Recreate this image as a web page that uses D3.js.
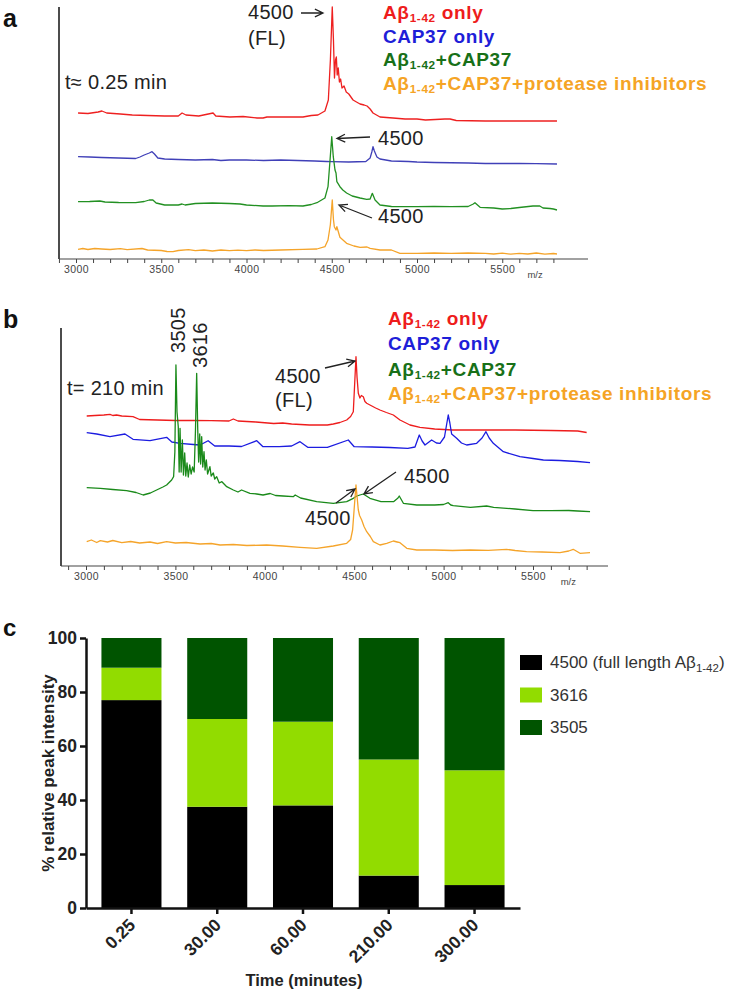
<!DOCTYPE html>
<html><head><meta charset="utf-8">
<script src="https://cdn.jsdelivr.net/npm/d3@7"></script>
<style>
body{margin:0;background:#fff;}
text{font-family:"Liberation Sans",Arial,sans-serif;}
</style></head><body>
<svg id="fig" width="733" height="995"></svg>
<script>
// ---------- shared ----------
const tickLabelsMZ = [3000, 3500, 4000, 4500, 5000, 5500];
const mzTicks = d3.range(2900, 5801, 100);
const legendMain = ["Aβ", "CAP37 only", "Aβ", "Aβ"];
const legendSub = ["1-42", "", "1-42", "1-42"];
const legendRest = [" only", "", "+CAP37", "+CAP37+protease inhibitors"];
const legendColors = ["#ee1c1c", "#1e1ed8", "#187018", "#f5a425"];

// ---------- panel a: t ≈ 0.25 min  ([m/z, relative intensity]) ----------
const aRed = [[3012,8],[3070,7.5],[3130,9],[3152,10],[3180,8],[3260,7],[3330,6],[3420,5.5],[3520,5],[3600,5],[3622,8],[3645,6],[3720,5],[3804,8],[3820,5],[3903,4],[3980,4.5],[4062,3],[4097,3],[4120,4],[4220,4],[4331,4],[4380,5.5],[4419,6],[4460,10],[4480,21],[4492,61],[4503,114],[4510,81],[4516,43],[4522,61],[4527,64],[4532,46],[4538,53],[4545,39],[4552,42],[4560,33],[4572,35],[4585,29],[4600,27],[4625,21],[4645,19],[4666,17],[4690,16],[4707,15],[4725,12],[4742,8],[4783,4],[4859,3],[4930,2],[5000,2],[5050,1],[5164,2],[5194,2],[5230,0.5],[5400,0],[5600,0],[5821,0]];
const aBlue = [[3012,7.3],[3080,7],[3150,6.5],[3250,6],[3350,5.5],[3375,7],[3400,9],[3430,11],[3446,12.3],[3460,10],[3480,6],[3520,5],[3600,4.5],[3700,4],[3800,4.5],[3850,3.5],[3900,4],[4000,4],[4100,3.5],[4200,4],[4300,3.5],[4400,3],[4470,2.5],[4500,2.3],[4600,2],[4700,2.5],[4725,6],[4735,12],[4742,17.3],[4750,13],[4765,7],[4783,5],[4850,3],[4950,2.5],[5000,2],[5100,1.5],[5300,1],[5400,0.5],[5600,0.5],[5700,0.3],[5821,0]];
const aGreen = [[3012,8.3],[3080,8.5],[3140,9],[3170,8],[3250,7.5],[3350,7.3],[3400,8.5],[3430,10],[3451,10],[3470,7],[3520,5],[3600,5],[3622,6],[3640,5],[3700,6.5],[3800,7],[3900,6.5],[3962,6],[4000,5],[4097,4],[4150,4],[4250,4.3],[4331,4],[4380,5.5],[4413,7.3],[4460,12],[4478,23.3],[4490,50],[4500,73.3],[4509,53.3],[4519,40],[4525,37],[4530,28.3],[4548,23.3],[4565,20],[4587,17],[4620,14],[4666,12],[4705,10.7],[4725,11],[4738,16.7],[4754,10],[4783,5],[4850,3.5],[5000,3.3],[5100,3.5],[5200,3.3],[5300,3.5],[5330,6],[5340,7.3],[5355,5],[5370,2.7],[5450,2],[5500,1],[5550,1.5],[5600,2.5],[5680,4],[5720,4],[5739,2],[5780,1.5],[5800,1],[5821,0]];
const aOrange = [[3012,5.2],[3040,6],[3070,5],[3110,6],[3150,5.5],[3200,5],[3260,5.8],[3300,4.8],[3387,6],[3420,4.5],[3500,4],[3534,3],[3569,2.8],[3600,4],[3660,4.8],[3700,3.8],[3750,4.5],[3800,3.5],[3850,4.5],[3900,3.8],[3950,4.3],[4000,3.8],[4050,4.5],[4100,4],[4200,4.5],[4331,5.2],[4413,5.5],[4460,7.8],[4478,14.5],[4492,30],[4503,54.5],[4510,35],[4515,27.8],[4525,24.5],[4530,27.8],[4548,17.2],[4587,11.2],[4630,8.5],[4666,7.2],[4707,7.5],[4725,6.2],[4783,4.5],[4850,4.5],[4900,1.2],[5000,1.2],[5100,1.5],[5200,1.2],[5300,1.5],[5400,1.2],[5450,0.5],[5500,1.3],[5550,0.3],[5600,1.2],[5650,0.5],[5700,1.5],[5750,0.3],[5800,1],[5821,0.5]];
const offsetsA = [136, 93, 47, 2.5];

// ---------- panel b: t = 210 min ----------
const bRed = [[3004,16.5],[3050,17],[3100,17.5],[3134,18.2],[3150,17],[3171,17.5],[3200,16.5],[3263,15.8],[3300,13],[3400,12.5],[3500,12],[3600,12],[3700,11.8],[3800,11.5],[3824,13.5],[3850,11.5],[3950,10.5],[4050,9],[4100,9.5],[4150,8.5],[4250,7.5],[4350,7.5],[4383,8.5],[4420,10],[4458,12.5],[4480,16],[4495,20.8],[4503,50],[4510,75.8],[4516,55],[4523,39.2],[4532,34.5],[4540,37],[4551,35.8],[4560,31],[4570,29.2],[4588,27.5],[4620,24.5],[4644,22.5],[4680,20],[4719,17.5],[4756,12.5],[4812,7.5],[4868,5.2],[4950,3.5],[5050,2.5],[5200,2.5],[5400,2.5],[5600,2],[5750,1.5],[5800,0]];
const bBlue = [[3004,30.3],[3060,29],[3134,26.3],[3218,29],[3263,23.7],[3358,22.3],[3451,25.7],[3480,21],[3526,19.7],[3600,18.5],[3638,18],[3683,22.3],[3720,17],[3800,17],[3870,16.5],[3955,22.3],[3990,16.3],[4080,16.3],[4150,17],[4197,21.3],[4240,15.7],[4350,15.7],[4467,23],[4500,16.3],[4600,16],[4700,15.5],[4800,14.7],[4840,16],[4864,28],[4880,22],[4896,18],[4933,23],[4960,20],[4980,19.7],[5005,26],[5026,48],[5035,40],[5045,29],[5073,24.7],[5100,20],[5129,18],[5185,19.7],[5215,25],[5237,31.3],[5255,25],[5278,19.7],[5334,11.3],[5427,6.3],[5500,4.5],[5558,3],[5650,2.5],[5750,1.5],[5819,0.3]];
const bGreen = [[3004,24.3],[3080,23.7],[3150,22.5],[3227,21.3],[3280,19.5],[3320,17],[3360,19],[3395,22],[3430,25],[3451,27],[3479,32],[3490,35.3],[3497,60],[3503,147],[3509,100],[3516,85.3],[3521,40],[3526,83.7],[3532,40],[3539,72],[3545,37],[3552,59],[3558,36],[3565,49],[3572,35],[3580,47],[3588,38],[3596,45],[3605,40],[3612,80],[3619,138.7],[3625,82],[3630,50],[3636,78],[3641,48],[3647,75.3],[3653,45],[3660,60.3],[3666,42],[3673,52],[3680,38],[3693,45.3],[3700,36],[3712,39],[3720,33],[3731,35.3],[3745,29],[3760,30.3],[3787,25.3],[3824,22],[3850,20],[3870,22],[3917,18.7],[3955,18],[3990,17],[4030,18.5],[4060,16.5],[4102,16],[4159,15.3],[4170,17],[4200,14],[4290,10.3],[4383,8.7],[4458,10.3],[4495,13.7],[4515,16],[4532,17],[4551,18],[4588,13.7],[4650,10.3],[4720,10.3],[4745,14],[4752,16],[4775,8.7],[4850,7],[4950,7],[5000,7.5],[5026,9.3],[5040,7],[5054,6.3],[5150,4.7],[5241,6],[5280,4.7],[5400,3],[5500,1.3],[5600,1.3],[5700,1.5],[5750,1],[5819,0.3]];
const bOrange = [[3004,11.8],[3030,13.5],[3060,11],[3080,12.8],[3120,11.5],[3150,13],[3200,10.8],[3250,12],[3300,10.5],[3358,11.5],[3400,10],[3451,11.8],[3500,10.5],[3560,11],[3638,9.5],[3700,10],[3750,8.5],[3824,9],[3900,8],[4010,8.5],[4100,7.5],[4197,6.2],[4290,5.2],[4383,7.5],[4458,10.2],[4480,14],[4491,23.5],[4500,45],[4510,68.5],[4517,55],[4523,43.5],[4530,38],[4542,33.5],[4555,27],[4570,21.8],[4590,17],[4607,11.8],[4644,8.5],[4682,10.2],[4719,12.5],[4740,11.5],[4756,10.8],[4794,5.2],[4850,3.5],[4950,3.5],[5050,3],[5150,3.5],[5250,3.2],[5352,4.2],[5400,3],[5464,1.8],[5550,1.5],[5651,0.8],[5700,2.5],[5725,4.2],[5763,0.2],[5819,0.8]];
const offsetsB = [133.5, 103, 54, 12.5];

// ---------- panel c ----------
const times = ["0.25", "30.00", "60.00", "210.00", "300.00"];
const fl4500 = [77, 37.5, 38, 12, 8.5];
const p3616 = [12, 32.5, 31, 43, 42.5];
const p3505 = [11, 30, 31, 45, 49];
const barKeys = ["fl", "p3616", "p3505"];
const barColors = ["#000000", "#92dc00", "#005400"];
const barLegend = ["4500 (full length Aβ", "3616", "3505"];
const yTicksC = [0, 20, 40, 60, 80, 100];

// =====================================================
const svg = d3.select("#fig");
svg.append("rect").attr("width", 733).attr("height", 995).attr("fill", "#fff");

function text(g, x, y, s, o = {}) {
  return g.append("text").attr("x", x).attr("y", y)
    .attr("font-size", o.size || 20).attr("font-weight", o.weight || "normal")
    .attr("fill", o.fill || "#222").attr("letter-spacing", o.ls || 0)
    .attr("text-anchor", o.anchor || "start").text(s);
}
function arrow(g, x1, y1, x2, y2) {
  const a = Math.atan2(y2 - y1, x2 - x1), L = 9, w = 0.45;
  const p = `M${x1},${y1}L${x2},${y2}M${x2 - L * Math.cos(a - w)},${y2 - L * Math.sin(a - w)}L${x2},${y2}L${x2 - L * Math.cos(a + w)},${y2 - L * Math.sin(a + w)}`;
  g.append("path").attr("d", p).attr("fill", "none").attr("stroke", "#222").attr("stroke-width", 1.3);
}
function legend(x, baselines, size) {
  legendMain.forEach((m, i) => {
    const t = svg.append("text").attr("x", x).attr("y", baselines[i]).attr("font-size", size)
      .attr("font-weight", "bold").attr("fill", legendColors[i]).attr("letter-spacing", 0.65);
    t.append("tspan").text(m);
    if (legendSub[i]) {
      t.append("tspan").attr("font-size", size * 0.62).attr("dy", 3).text(legendSub[i]);
      t.append("tspan").attr("dy", -3).text(legendRest[i]);
    } else if (legendRest[i]) t.append("tspan").text(legendRest[i]);
  });
}
function spectrum(cfg) {
  const { x, y, series, offsets, colors, axisY, axisX0, axisX1, yTop } = cfg;
  const g = svg.append("g");
  g.append("line").attr("x1", axisX0).attr("x2", axisX0).attr("y1", yTop).attr("y2", axisY)
    .attr("stroke", "#111").attr("stroke-width", 1.5);
  const ax = d3.axisBottom(x).tickValues(mzTicks).tickSize(4).tickPadding(3)
    .tickFormat(d => tickLabelsMZ.includes(d) ? d : "");
  const axg = g.append("g").attr("transform", `translate(0,${axisY})`).call(ax);
  axg.select(".domain").remove();
  axg.selectAll("line").attr("stroke", "#444");
  axg.selectAll("text").attr("font-family", "DejaVu Sans").attr("font-size", 10.5).attr("fill", "#444")
    .attr("letter-spacing", 0.4);
  g.append("line").attr("x1", axisX0).attr("x2", axisX1).attr("y1", axisY).attr("y2", axisY)
    .attr("stroke", "#444").attr("stroke-width", 1.2);
  text(g, x(5800) - 26, axisY + 19, "m/z", { size: 9.5, fill: "#444" }).attr("font-family", "DejaVu Sans");
  series.forEach((s, i) => {
    const line = d3.line().x(d => x(d[0])).y(d => y(d[1] + offsets[i]));
    g.append("path").attr("d", line(s)).attr("fill", "none").attr("stroke", colors[i])
      .attr("stroke-width", 1.3).attr("stroke-linejoin", "round");
  });
  return g;
}

// ---------- panel a ----------
const xA = d3.scaleLinear().domain([3000, 5500]).range([76, 502.25]);
const yA = d3.scaleLinear().domain([-2, 250]).range([259, 7]);
const gA = spectrum({ x: xA, y: yA, series: [aRed, aBlue, aGreen, aOrange], offsets: offsetsA,
  colors: ["#ee2020", "#4040b8", "#229022", "#f5a42a"], axisY: 259, axisX0: 59, axisX1: 588, yTop: 7 });
text(svg, 3, 27, "a", { size: 25, weight: "bold", fill: "#111" });
text(gA, 248, 19, "4500", { ls: 0.3 });
text(gA, 248, 45, "(FL)", { ls: 0.3 });
arrow(gA, 301, 13, 323, 13);
text(gA, 65, 89, "t≈ 0.25 min", { ls: 0.3 });
arrow(gA, 370, 137, 337, 138.5);
text(gA, 378, 145, "4500", { ls: 0.3 });
arrow(gA, 372, 218, 339, 205);
text(gA, 378, 223, "4500", { ls: 0.3 });
legend(383, [19, 43, 66, 90], 19);

// ---------- panel b ----------
const xB = d3.scaleLinear().domain([3000, 5500]).range([86, 533]);
const yB = d3.scaleLinear().domain([0, 238]).range([566, 328]);
const gB = spectrum({ x: xB, y: yB, series: [bRed, bBlue, bGreen, bOrange], offsets: offsetsB,
  colors: ["#ee1c1c", "#1c1ce0", "#1a8a1a", "#f5a42a"], axisY: 566, axisX0: 61, axisX1: 608, yTop: 328 });
text(svg, 3, 328, "b", { size: 25, weight: "bold", fill: "#111" });
text(gB, 0, 0, "3505", { ls: 0.3 }).attr("transform", "translate(185,353) rotate(-90)");
text(gB, 0, 0, "3616", { ls: 0.3 }).attr("transform", "translate(207,368) rotate(-90)");
text(gB, 67, 395, "t= 210 min", { ls: 0.3 });
text(gB, 275, 383, "4500", { ls: 0.3 });
text(gB, 275, 407, "(FL)", { ls: 0.3 });
arrow(gB, 325, 368, 355, 361);
text(gB, 404, 483, "4500", { ls: 0.3 });
arrow(gB, 396, 472, 364, 494);
text(gB, 305, 525, "4500", { ls: 0.3 });
arrow(gB, 336, 503, 355, 489);
legend(388, [325, 350, 376, 400], 19);

// ---------- panel c ----------
const gC = svg.append("g");
text(svg, 3, 636, "c", { size: 24, weight: "bold", fill: "#111" });
const rows = times.map((t, i) => ({ t, fl: fl4500[i], p3616: p3616[i], p3505: p3505[i] }));
const stacked = d3.stack().keys(barKeys)(rows);
const xC = d3.scaleBand().domain(times).range([86, 520]).paddingInner(0.3).paddingOuter(0.18);
const yC = d3.scaleLinear().domain([0, 100]).range([908, 638]);
stacked.forEach((layer, k) => {
  gC.selectAll(null).data(layer).join("rect")
    .attr("x", d => xC(d.data.t)).attr("width", xC.bandwidth())
    .attr("y", d => yC(d[1])).attr("height", d => yC(d[0]) - yC(d[1]))
    .attr("fill", barColors[k]);
});
const axL = gC.append("g").attr("transform", "translate(86,0)")
  .call(d3.axisLeft(yC).tickValues(yTicksC).tickSize(6).tickSizeOuter(0).tickPadding(3));
const axB = gC.append("g").attr("transform", "translate(0,908)")
  .call(d3.axisBottom(xC).tickSize(6).tickSizeOuter(0));
[axL, axB].forEach(a => {
  a.select(".domain").attr("stroke", "#111").attr("stroke-width", 2.5);
  a.selectAll(".tick line").attr("stroke", "#111").attr("stroke-width", 2.5);
  a.selectAll("text").attr("font-family", "Liberation Sans, Arial, sans-serif")
    .attr("font-size", 17.5).attr("font-weight", "bold").attr("fill", "#222");
});
axB.selectAll(".tick text").attr("text-anchor", "end").attr("dy", 0).attr("y", 0)
  .attr("transform", "translate(5,18) rotate(-45)");
text(gC, 304, 986, "Time (minutes)", { size: 16.5, weight: "bold" }).attr("text-anchor", "middle");
text(gC, 0, 0, "% relative peak intensity", { size: 17, weight: "bold", anchor: "middle" })
  .attr("transform", "translate(54,773) rotate(-90)");
// legend
barLegend.forEach((lab, i) => {
  const yy = 655 + i * 32.5;
  gC.append("rect").attr("x", 520).attr("y", yy).attr("width", 22).attr("height", 15).attr("fill", barColors[i]);
  const t = gC.append("text").attr("x", 550).attr("y", yy + 13).attr("font-size", 17).attr("fill", "#333");
  t.append("tspan").text(lab);
  if (i === 0) {
    t.append("tspan").attr("font-size", 11.5).attr("dy", 4).text("1-42");
    t.append("tspan").attr("dy", -4).text(")");
  }
});
</script>
</body></html>
